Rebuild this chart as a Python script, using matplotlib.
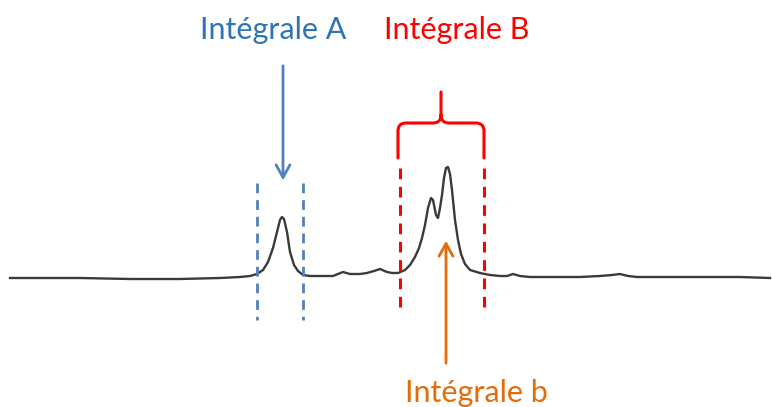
import numpy as np
import matplotlib.pyplot as plt
from matplotlib.path import Path
from matplotlib.patches import PathPatch

# spectrum trace (x in px, y in px from top)
spec_x = [10, 40, 80, 130, 180, 220, 240, 250, 257, 263, 268, 273, 277, 280, 282,
          284, 287, 290, 294, 298, 303, 310, 320, 333, 343, 350, 360, 367, 374,
          380, 387, 392, 398, 405, 410, 415, 419, 422, 425, 428, 431, 433, 436,
          438, 440, 442, 444, 446, 448, 450, 452, 455, 458, 461, 465, 470, 480,
          490, 500, 507, 513, 520, 530, 560, 580, 600, 612, 620, 628, 637, 660,
          680, 710, 740, 770]
spec_y = [278, 278, 278, 279, 279, 278, 277, 276, 274, 270, 262, 248, 232, 220, 217,
          219, 232, 252, 265, 271, 275, 276, 276, 276, 272, 274, 274, 273, 271,
          269, 272, 273, 273, 270, 265, 257, 248, 238, 225, 208, 198, 200, 215,
          218, 208, 195, 178, 168, 167, 174, 190, 220, 240, 254, 264, 270, 273,
          275, 276, 276, 274, 276, 277, 277, 277, 276, 275, 274, 276, 277, 277,
          277, 277, 277, 278]

# integration limits (px)
lim_A = [257, 303]
lim_B = [400, 484]

labels = ["Intégrale A", "Intégrale B", "Intégrale b"]
blue_txt = "#2E75B6"
blue = "#4F81BD"
red = "#FF0000"
orange = "#E46C0A"

fig = plt.figure(figsize=(7.72, 4.07), dpi=100)
ax = fig.add_axes([0, 0, 1, 1])
ax.set_xlim(0, 772)
ax.set_ylim(407, 0)
ax.axis("off")

ax.plot(spec_x, spec_y, color="#3a3a3a", lw=1.7, solid_joinstyle="round")

# dashed limits
for x in lim_A:
    ax.plot([x, x], [183, 320], color=blue, lw=2, ls=(0, (3.5, 2.5)))
for x in lim_B:
    ax.plot([x, x], [168, 307], color=red, lw=2.2, ls=(0, (3.5, 2.5)))

# arrows
ax.annotate("", xy=(283, 183), xytext=(283, 63),
            arrowprops=dict(arrowstyle="->,head_length=0.9,head_width=0.5",
                            color=blue, lw=2))
ax.annotate("", xy=(446, 238), xytext=(446, 366),
            arrowprops=dict(arrowstyle="->,head_length=0.9,head_width=0.5",
                            color=orange, lw=2))

# curly brace over B
xl, xr, yb, yt, xm = 398, 484, 158, 123, 441
r = 8
verts = [(xl, yb), (xl, yt + r), (xl, yt), (xl + r, yt),
         (xm - r, yt), (xm, yt), (xm, yt - 8), (xm, 92),
         (xm, yt - 8), (xm, yt), (xm + r, yt),
         (xr - r, yt), (xr, yt), (xr, yt + r), (xr, yb)]
codes = [Path.MOVETO, Path.LINETO, Path.CURVE3, Path.CURVE3,
         Path.LINETO, Path.CURVE3, Path.CURVE3, Path.LINETO,
         Path.MOVETO, Path.CURVE3, Path.CURVE3,
         Path.LINETO, Path.CURVE3, Path.CURVE3, Path.LINETO]
ax.add_patch(PathPatch(Path(verts, codes), fill=False, edgecolor=red, lw=2.2,
                       capstyle="round", joinstyle="round"))

fnt = dict(family="Lato", fontsize=22, ha="center", va="center")
ax.text(273, 30, labels[0], color=blue_txt, **fnt)
ax.text(457, 30, labels[1], color=red, **fnt)
ax.text(476, 393, labels[2], color=orange, **fnt)

fig.savefig("out.png", dpi=100)
